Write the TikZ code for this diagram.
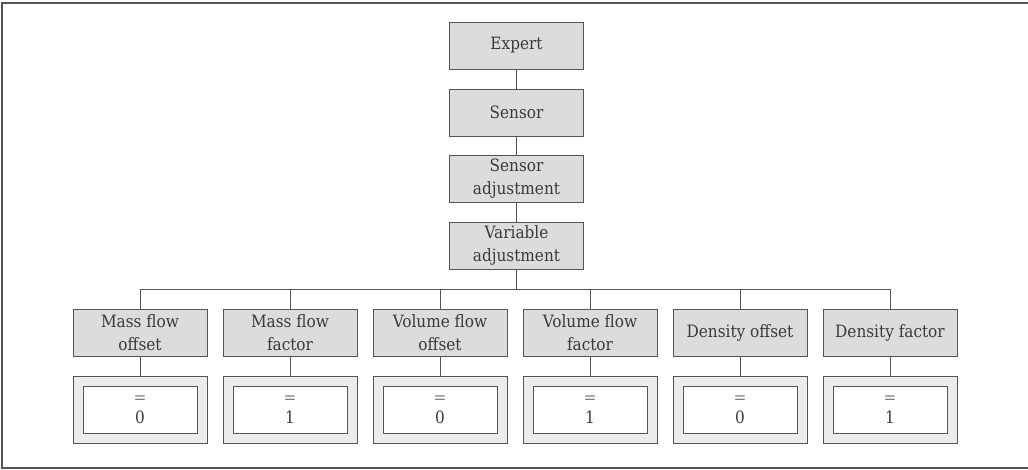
\documentclass[tikz,border=0pt]{standalone}
\usepackage{fontspec}
\setmainfont{DejaVu Serif Condensed}
\definecolor{boxfill}{HTML}{DCDCDC}
\definecolor{valfill}{HTML}{EBECEB}
\definecolor{edge}{HTML}{555555}
\definecolor{txt}{HTML}{3A3A3A}
\begin{document}
\begin{tikzpicture}[x=1pt,y=-1pt,
  menu/.style={draw=edge, fill=boxfill, line width=1pt, minimum width=134pt, minimum height=47pt,
    inner sep=0pt, align=center, text=txt, font=\fontsize{17}{22.5}\selectfont},
  valout/.style={draw=edge, fill=valfill, line width=1pt, minimum width=134pt, minimum height=67pt, inner sep=0pt},
  valin/.style={draw=edge, fill=white, line width=1pt, minimum width=114pt, minimum height=47pt,
    inner sep=0pt, align=center, text=txt, font=\fontsize{17}{24}\selectfont},
  link/.style={draw=edge, line width=0.9pt},
  frame/.style={draw=edge, line width=1.5pt}]
\useasboundingbox (0,0) rectangle (1028,469);
\draw[frame] (1028,3) -- (2,3) -- (2,468) -- (1028,468);

\node[menu] (expert) at (516.5,45.5) {Expert};
\node[menu] (sensor) at (516.5,112.5) {Sensor};
\node[menu] (sadj) at (516.5,178.5) {Sensor\\adjustment};
\node[menu] (vadj) at (516.5,245.5) {Variable\\adjustment};

\coordinate (busL) at (140,289);
\coordinate (busR) at (890,289);

\foreach \i/\name/\lab/\val in {0/mfo/{Mass flow\\offset}/0, 1/mff/{Mass flow\\factor}/1,
  2/vfo/{Volume flow\\offset}/0, 3/vff/{Volume flow\\factor}/1,
  4/dof/{Density offset}/0, 5/dfa/{Density factor}/1}{
  \node[menu] (\name) at (140+150*\i,332.5) {\lab};
  \node[valout] (\name o) at (140+150*\i,409.5) {};
  \node[valin] (\name i) at (140+150*\i,409.5) {{\color{gray}=}\\[-4pt]\val};
  \draw[link] (\name.north) -- (\name.north |- busL);
  \draw[link] (\name.south) -- (\name o.north);
}

\draw[link] (expert) -- (sensor);
\draw[link] (sensor) -- (sadj);
\draw[link] (sadj) -- (vadj);
\draw[link] (vadj.south) -- (vadj.south |- busL);
\draw[link] (busL) -- (busR);
\end{tikzpicture}
\end{document}
